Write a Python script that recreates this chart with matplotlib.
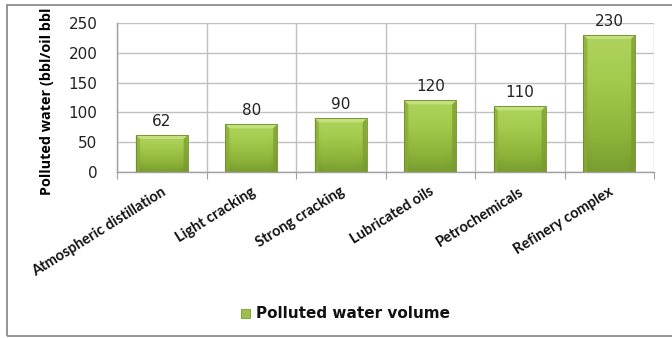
import matplotlib
matplotlib.use("Agg")
import matplotlib.pyplot as plt
import numpy as np
from matplotlib.patches import Rectangle, Polygon
from matplotlib.colors import LinearSegmentedColormap

categories = ["Atmospheric distillation", "Light cracking", "Strong cracking",
              "Lubricated oils", "Petrochemicals", "Refinery complex"]
values = [62, 80, 90, 120, 110, 230]
y_ticks = [0, 50, 100, 150, 200, 250]
series_name = "Polluted water volume"
y_label = "Polluted water (bbl/oil bbl"

W, H = 672, 338
fig = plt.figure(figsize=(W / 100, H / 100), dpi=100)
ax = fig.add_axes([117 / W, 1 - 172 / H, (654 - 117) / W, (172 - 23) / H])

# outer chart border (right edge runs off the canvas)
fig.patches.append(Rectangle((7 / W, 1 - 336 / H), 1.0, (336 - 5) / H,
                             transform=fig.transFigure, fill=False,
                             edgecolor="#8c8c8c", linewidth=1.3))

x = np.arange(len(categories))
width = 0.58
ymax = 250
ax.set_xlim(-0.5, len(categories) - 0.5)
ax.set_ylim(0, ymax)

grid_c = "#c0c0c0"
ax.set_yticks(y_ticks)
ax.set_xticks(np.arange(-0.5, len(categories)))
ax.set_xticklabels([])
ax.grid(True, axis="both", color=grid_c, linewidth=1.0)
ax.set_axisbelow(True)
for s in ["top", "right"]:
    ax.spines[s].set_visible(False)
for s in ["left", "bottom"]:
    ax.spines[s].set_color("#a0a0a0")
    ax.spines[s].set_linewidth(1.0)
ax.tick_params(axis="x", length=5, color="#a0a0a0")
ax.tick_params(axis="y", length=0, pad=14, labelsize=11, labelcolor="#222222")
for lbl in ax.get_yticklabels():
    lbl.set_fontfamily("DejaVu Sans")

# category labels, angled, anchored at their right end below each bar
px_x = (len(categories)) / (654 - 117)     # data units per pixel (x)
for xi, name in zip(x, categories):
    ax.text(xi + 5 * px_x, -22 / 149, name, transform=ax.get_xaxis_transform(),
            rotation=32, rotation_mode="anchor", ha="right", va="baseline",
            fontsize=10.5, fontweight="bold", fontfamily="Lato", color="#111111")

# bar body: vertical gradient with darker sides
cmap = LinearSegmentedColormap.from_list("bar", ["#6f9128", "#8db33a", "#a3ca4c", "#b0d560"])
ny, nx = 120, 60
yy = np.linspace(0, 1, ny)[:, None]
xx = np.linspace(-1, 1, nx)[None, :]
shade = yy * 0.85 + 0.12 - 0.15 * np.abs(xx) ** 8
bev_x = 4 * px_x
bev_y = 4 * ymax / 149
bars = ax.bar(x, values, width, color="none", edgecolor="none", zorder=2)
for b, v in zip(bars, values):
    x0, x1 = b.get_x(), b.get_x() + width
    img = ax.imshow(shade, cmap=cmap, vmin=0, vmax=1, aspect="auto", origin="lower",
                    extent=(x0, x1, 0, v), zorder=2, interpolation="bilinear")
    img.set_clip_path(b)
    # bevel: light top, darker sides
    ax.add_patch(Polygon([(x0, v), (x1, v), (x1 - bev_x, v - bev_y), (x0 + bev_x, v - bev_y)],
                         closed=True, facecolor="#c2e07c", edgecolor="none", zorder=3))
    ax.add_patch(Polygon([(x0, v), (x0 + bev_x, v - bev_y), (x0 + bev_x, 0), (x0, 0)],
                         closed=True, facecolor="#8aac38", edgecolor="none", alpha=0.75, zorder=3))
    ax.add_patch(Polygon([(x1, v), (x1 - bev_x, v - bev_y), (x1 - bev_x, 0), (x1, 0)],
                         closed=True, facecolor="#7c9d30", edgecolor="none", alpha=0.75, zorder=3))
    ax.add_patch(Rectangle((x0, 0), width, v, facecolor="none",
                           edgecolor="#6b8c2a", linewidth=0.6, zorder=3))
    ax.annotate(str(v), (b.get_x() + width / 2, v), xytext=(0, 6.5),
                textcoords="offset points", ha="center", va="baseline",
                fontsize=11, color="#222222", fontfamily="DejaVu Sans", zorder=4,
                annotation_clip=False)

ax.set_xlim(-0.5, len(categories) - 0.5)
ax.set_ylim(0, ymax)

fig.text(47 / W, 1 - 101 / H, y_label, rotation=90, ha="center", va="center",
         fontsize=10.4, fontweight="bold", fontfamily="Open Sans")

# legend
fig.patches.append(Rectangle((241 / W, 1 - 318 / H), 9 / W, 9 / H,
                             transform=fig.transFigure, facecolor="#9cc049",
                             edgecolor="#7a9a30", linewidth=0.6))
fig.text(256 / W, 1 - 313 / H, series_name, ha="left", va="center",
         fontsize=11, fontweight="bold", fontfamily="DejaVu Sans", color="#111111")

fig.savefig("out.png", dpi=100)
